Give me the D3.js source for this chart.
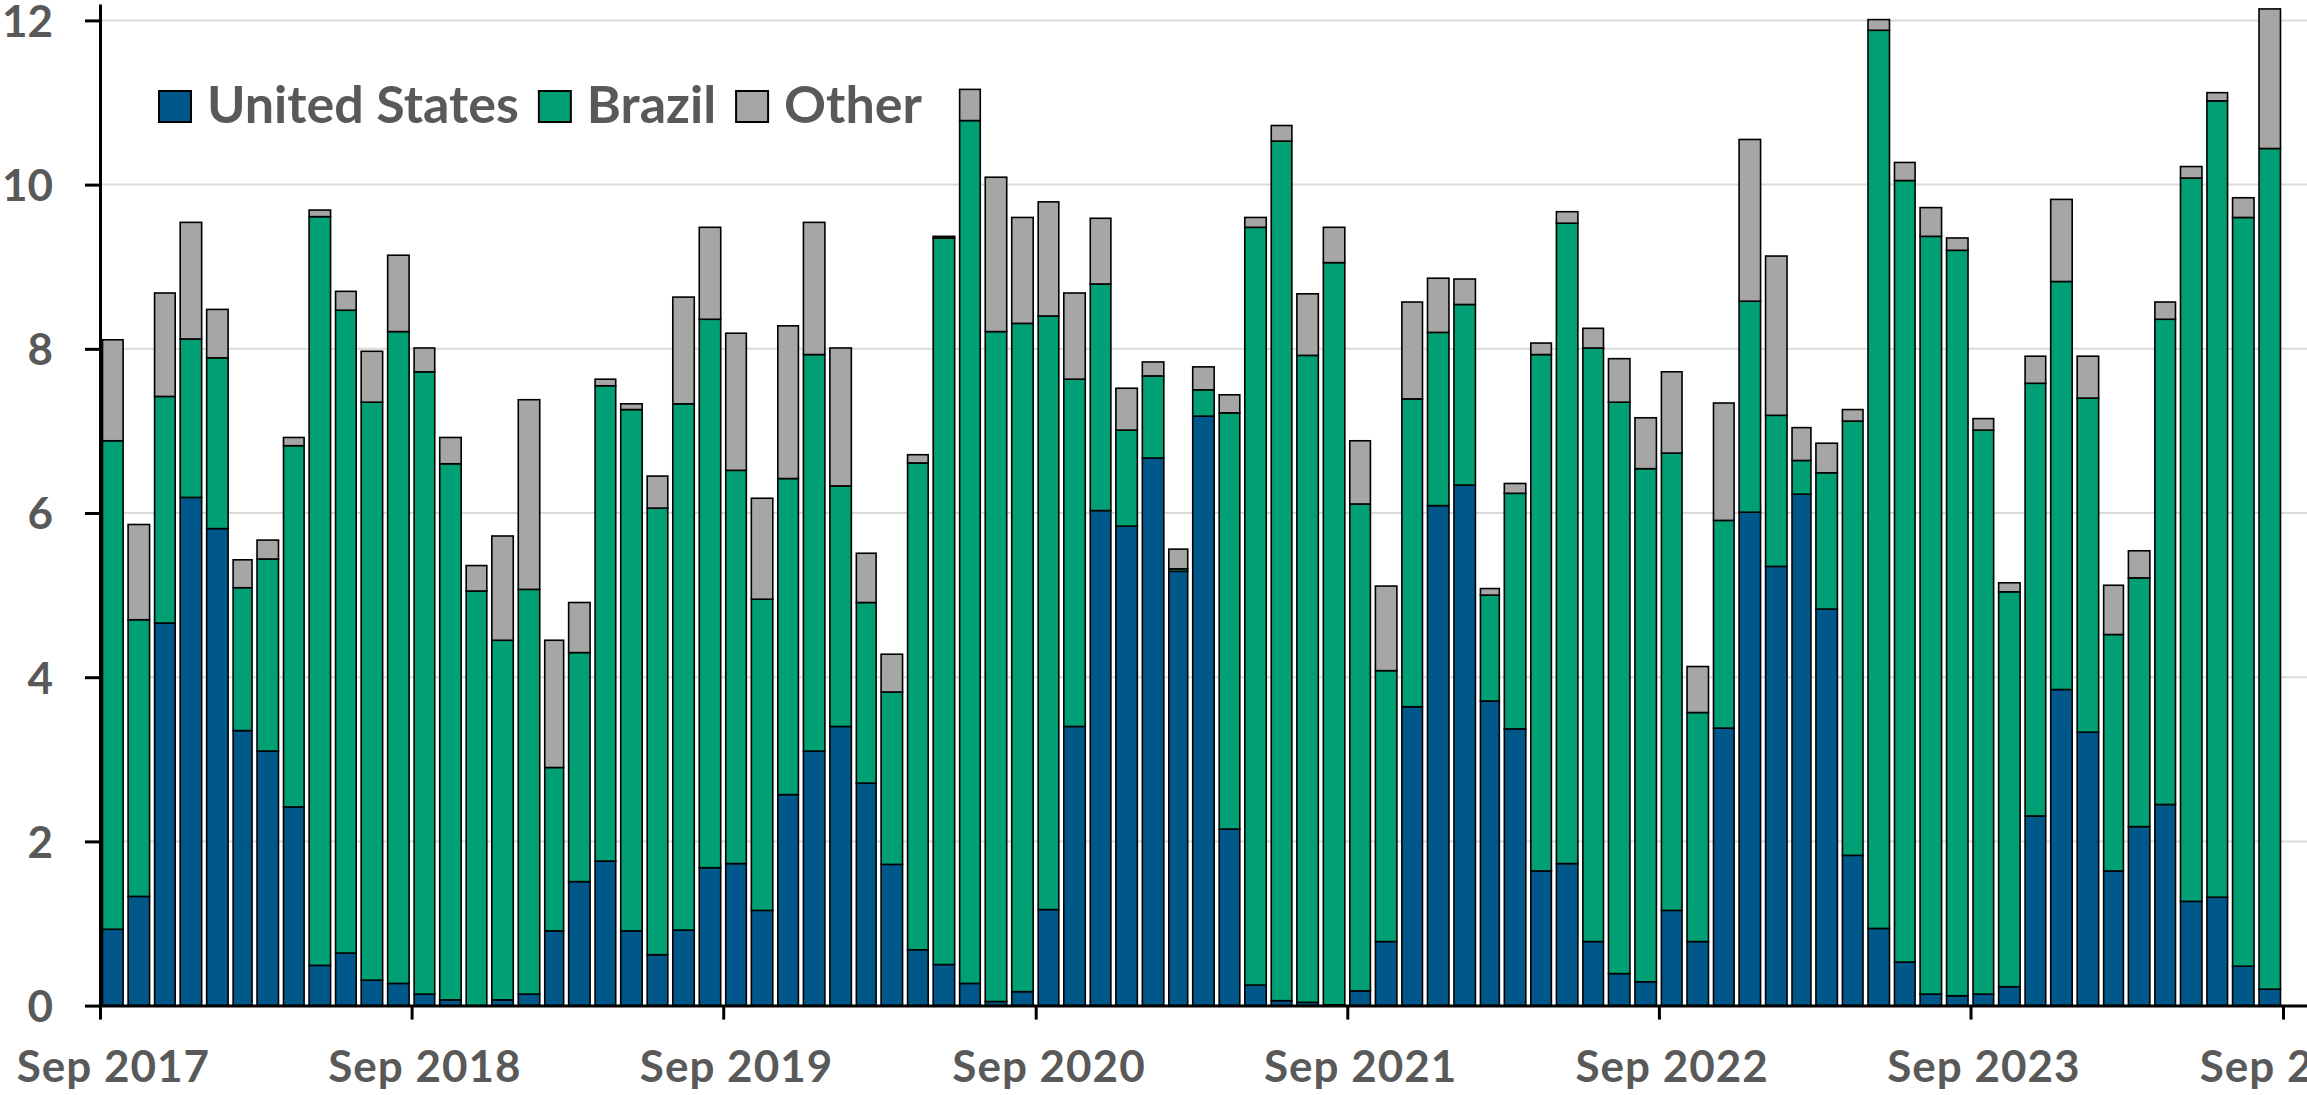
<!DOCTYPE html>
<html>
<head>
<meta charset="utf-8">
<script src="https://cdn.jsdelivr.net/npm/d3@7"></script>
<style>
  html, body { margin: 0; padding: 0; background: #fff; overflow: hidden; }
  svg { display: block; }
  .axis text { font-family: Lato, "Open Sans", sans-serif; font-weight: 700; fill: #595959; }
</style>
</head>
<body>
<svg id="chart"></svg>
<script>
// monthly volumes, Sep 2017 .. Aug 2024
const firstMonth = new Date(Date.UTC(2017, 8, 1));
const lastMonth = new Date(Date.UTC(2024, 7, 1));
const months = d3.utcMonth.range(firstMonth, d3.utcMonth.offset(lastMonth, 1));

const seriesNames = ["United States", "Brazil", "Other"];
const seriesColors = ["#005789", "#00a074", "#a6a6a6"];

const unitedStates = [
  0.93, 1.33, 4.66, 6.19, 5.81, 3.35, 3.10, 2.42, 0.49, 0.64, 0.31, 0.27,
  0.14, 0.07, 0.00, 0.07, 0.14, 0.91, 1.51, 1.76, 0.91, 0.62, 0.92, 1.68,
  1.73, 1.16, 2.57, 3.10, 3.40, 2.71, 1.72, 0.68, 0.50, 0.27, 0.05, 0.17,
  1.17, 3.40, 6.03, 5.84, 6.67, 5.29, 7.18, 2.15, 0.25, 0.06, 0.04, 0.01,
  0.18, 0.78, 3.64, 6.09, 6.34, 3.71, 3.37, 1.64, 1.73, 0.78, 0.39, 0.29,
  1.16, 0.78, 3.38, 6.01, 5.35, 6.23, 4.83, 1.83, 0.94, 0.53, 0.14, 0.12,
  0.14, 0.23, 2.31, 3.85, 3.33, 1.64, 2.18, 2.45, 1.27, 1.32, 0.48, 0.20
];
const brazil = [
  5.95, 3.37, 2.76, 1.93, 2.08, 1.74, 2.34, 4.40, 9.12, 7.83, 7.04, 7.94,
  7.58, 6.53, 5.05, 4.38, 4.93, 1.99, 2.79, 5.79, 6.35, 5.44, 6.41, 6.68,
  4.79, 3.79, 3.85, 4.83, 2.93, 2.20, 2.10, 5.93, 8.85, 10.51, 8.16, 8.14,
  7.23, 4.23, 2.76, 1.17, 1.00, 0.03, 0.32, 5.07, 9.23, 10.47, 7.88, 9.04,
  5.93, 3.30, 3.75, 2.11, 2.20, 1.29, 2.87, 6.29, 7.80, 7.23, 6.96, 6.25,
  5.57, 2.79, 2.53, 2.57, 1.84, 0.41, 1.66, 5.29, 10.94, 9.52, 9.23, 9.08,
  6.87, 4.81, 5.27, 4.97, 4.07, 2.88, 3.03, 5.91, 8.81, 9.70, 9.12, 10.24
];
const other = [
  1.23, 1.16, 1.26, 1.42, 0.59, 0.34, 0.23, 0.10, 0.08, 0.23, 0.62, 0.93,
  0.29, 0.32, 0.31, 1.27, 2.31, 1.55, 0.61, 0.08, 0.07, 0.39, 1.30, 1.12,
  1.67, 1.23, 1.86, 1.61, 1.68, 0.60, 0.46, 0.10, 0.02, 0.38, 1.88, 1.29,
  1.39, 1.05, 0.80, 0.51, 0.17, 0.24, 0.28, 0.22, 0.12, 0.19, 0.75, 0.43,
  0.77, 1.03, 1.18, 0.66, 0.31, 0.08, 0.12, 0.14, 0.14, 0.24, 0.53, 0.62,
  0.99, 0.56, 1.43, 1.97, 1.94, 0.40, 0.36, 0.14, 0.13, 0.22, 0.35, 0.15,
  0.14, 0.11, 0.33, 1.00, 0.51, 0.60, 0.33, 0.21, 0.14, 0.10, 0.24, 1.70
];
const yTicks = [0, 2, 4, 6, 8, 10, 12];
const yMax = 12.2;

const width = 2307, height = 1095;
const margin = {top: 4, left: 100, bottom: 89};
const textColor = "#595959";

const svg = d3.select("#chart").attr("width", width).attr("height", height);

const rows = months.map((m, i) => ({
  month: m,
  "United States": unitedStates[i],
  "Brazil": brazil[i],
  "Other": other[i]
}));

const x = d3.scaleUtc()
  .domain([firstMonth, new Date(Date.UTC(2024, 9, 1))])
  .range([margin.left, 2308.6]);

const y = d3.scaleLinear()
  .domain([0, yMax])
  .range([height - margin.bottom - 0.4, margin.top]);

const color = d3.scaleOrdinal().domain(seriesNames).range(seriesColors);

// grid
svg.append("g")
  .selectAll("line")
  .data(yTicks.filter(d => d > 0))
  .enter().append("line")
  .attr("x1", margin.left)
  .attr("x2", width)
  .attr("y1", d => y(d))
  .attr("y2", d => y(d))
  .attr("stroke", "#dadada")
  .attr("stroke-width", 2);

// bars
const stacked = d3.stack().keys(seriesNames)(rows);
const pad = 2.5;

svg.append("g")
  .selectAll("g")
  .data(stacked)
  .enter().append("g")
  .attr("fill", d => color(d.key))
  .selectAll("rect")
  .data(d => d)
  .enter().append("rect")
  .attr("x", d => x(d.data.month) + pad)
  .attr("width", d => x(d3.utcMonth.offset(d.data.month, 1)) - x(d.data.month) - 2 * pad)
  .attr("y", d => y(d[1]))
  .attr("height", d => Math.max(0, y(d[0]) - y(d[1])))
  .attr("stroke", "#000")
  .attr("stroke-width", 1.6);

// axes
const halfMonth = (x(d3.utcMonth.offset(firstMonth, 1)) - x(firstMonth)) / 2;

const xAxis = svg.append("g")
  .attr("class", "axis axis-x")
  .attr("transform", "translate(0," + y(0) + ")")
  .call(d3.axisBottom(x)
    .tickValues(d3.utcMonth.range(firstMonth, new Date(Date.UTC(2024, 9, 1)), 12))
    .tickFormat(d3.utcFormat("%b %Y"))
    .tickSize(14)
    .tickSizeOuter(0));
xAxis.select(".domain").attr("stroke", "#000").attr("stroke-width", 3);
xAxis.selectAll(".tick line").attr("stroke", "#000").attr("stroke-width", 3);
xAxis.selectAll(".tick text")
  .attr("x", halfMonth)
  .attr("y", 76)
  .attr("dy", 0)
  .attr("fill", textColor)
  .style("font-size", "44px")
  .style("letter-spacing", "1px");

const yAxis = svg.append("g")
  .attr("class", "axis axis-y")
  .attr("transform", "translate(" + margin.left + ",0)")
  .call(d3.axisLeft(y)
    .tickValues(yTicks)
    .tickSize(15)
    .tickPadding(32)
    .tickSizeOuter(0));
yAxis.select(".domain").attr("stroke", "#000").attr("stroke-width", 3);
yAxis.selectAll(".tick line").attr("stroke", "#000").attr("stroke-width", 3);
yAxis.selectAll(".tick text")
  .attr("fill", textColor)
  .attr("dy", "0.36em")
  .style("font-size", "44px");

// legend
const legend = svg.append("g").attr("class", "axis legend");
let lx = 159;
seriesNames.forEach(function(name) {
  legend.append("rect")
    .attr("x", lx)
    .attr("y", 91)
    .attr("width", 32)
    .attr("height", 31)
    .attr("fill", color(name))
    .attr("stroke", "#000")
    .attr("stroke-width", 2);
  const t = legend.append("text")
    .attr("x", lx + 48)
    .attr("y", 123)
    .style("font-size", "52px")
    .text(name);
  lx += 48 + t.node().getComputedTextLength() + 20;
});
</script>
</body>
</html>
